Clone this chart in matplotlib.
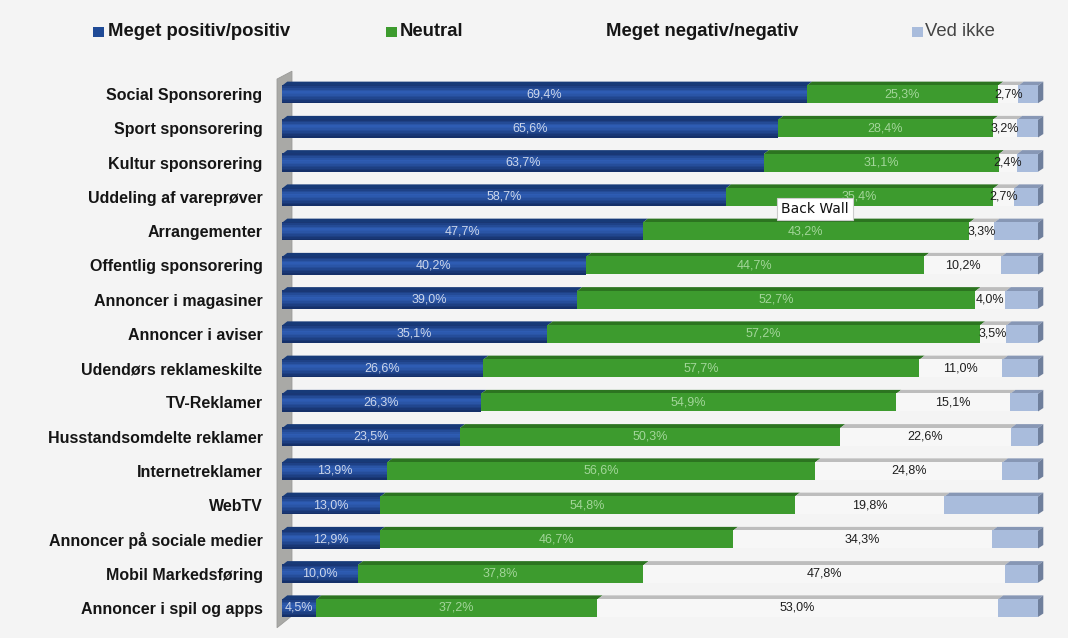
import matplotlib
matplotlib.use('Agg')
import matplotlib.pyplot as plt
from matplotlib.patches import Polygon, Rectangle
import numpy as np

categories = ['Social Sponsorering', 'Sport sponsorering', 'Kultur sponsorering',
              'Uddeling af vareprøver', 'Arrangementer', 'Offentlig sponsorering',
              'Annoncer i magasiner', 'Annoncer i aviser', 'Udendørs reklameskilte',
              'TV-Reklamer', 'Husstandsomdelte reklamer', 'Internetreklamer', 'WebTV',
              'Annoncer på sociale medier', 'Mobil Markedsføring', 'Annoncer i spil og apps']
positive = [69.4, 65.6, 63.7, 58.7, 47.7, 40.2, 39.0, 35.1, 26.6, 26.3, 23.5, 13.9, 13.0, 12.9, 10.0, 4.5]
neutral = [25.3, 28.4, 31.1, 35.4, 43.2, 44.7, 52.7, 57.2, 57.7, 54.9, 50.3, 56.6, 54.8, 46.7, 37.8, 37.2]
negative = [2.7, 3.2, 2.4, 2.7, 3.3, 10.2, 4.0, 3.5, 11.0, 15.1, 22.6, 24.8, 19.8, 34.3, 47.8, 53.0]
dont_know = [2.6, 2.8, 2.8, 3.2, 5.8, 4.9, 4.3, 4.2, 4.7, 3.7, 3.6, 4.7, 12.4, 6.1, 4.4, 5.3]
series_names = ['Meget positiv/positiv', 'Neutral', 'Meget negativ/negativ', 'Ved ikke']

W, H = 1068, 638
BG = '#f4f4f4'
fig = plt.figure(figsize=(W / 100, H / 100), dpi=100, facecolor=BG)
ax = fig.add_axes([282 / W, 1 - 625 / H, 756 / W, 548 / H])
ax.set_facecolor('none')
n = len(categories)
y = np.arange(n)
ax.set_xlim(0, 100)
ax.set_ylim(n - 0.5, -0.5)
for s in ax.spines.values():
    s.set_visible(False)
ax.set_xticks([])
ax.set_yticks(y)
ax.set_yticklabels(categories, fontsize=11.5, fontweight='bold', family='Liberation Sans', color='#151515')
ax.tick_params(axis='y', length=0, pad=14)

# back wall (behind the bars)
wall = Polygon([(-0.66, -0.44), (-0.66, 15.58), (1.32, 15.23), (1.32, -0.67)],
               closed=True, facecolor='#a9a9a6', edgecolor='#9a9a98', lw=0.6,
               clip_on=False, zorder=0)
ax.add_patch(wall)

h = 0.53
dx, dy = 0.7, 0.1
pos = np.array(positive)
neu = np.array(neutral)
neg = np.array(negative)
dk = np.array(dont_know)

fills = ['#1f4a96', '#3d9b2e', '#f7f7f7', '#a9bcdc']
tops = ['#173a78', '#2c7420', '#bdbdbd', '#8797b5']
lefts = [np.zeros(n), pos, pos + neu, pos + neu + neg]
widths = [pos, neu, neg, dk]

for k in range(4):
    ax.barh(y, widths[k], left=lefts[k], height=h, color=fills[k], edgecolor='none', zorder=2)
    for i in range(n):
        l = lefts[k][i]
        r = l + widths[k][i]
        yt = y[i] - h / 2
        ax.add_patch(Polygon([(l, yt + 0.02), (r, yt + 0.02), (r + dx, yt - dy), (l + dx, yt - dy)],
                             closed=True, facecolor=tops[k], edgecolor='none', zorder=1.5,
                             clip_on=False))

# blue tube gradient
nsl = 12
prof = np.array([0.25, 0.45, 0.65, 0.85, 1.0, 0.95, 0.85, 0.7, 0.55, 0.4, 0.25, 0.1])
dark = np.array([0.07, 0.17, 0.38])
light = np.array([0.18, 0.36, 0.70])
for j in range(nsl):
    c = dark + (light - dark) * prof[j]
    off = -h / 2 + (j + 0.5) * h / nsl
    ax.barh(y + off, pos, left=0, height=h / nsl + 0.005, color=c, edgecolor='none', zorder=2.2)

# side faces on the right end
for i in range(n):
    r = lefts[3][i] + widths[3][i]
    yt = y[i] - h / 2
    yb = y[i] + h / 2
    ax.add_patch(Polygon([(r, yt + 0.02), (r + dx, yt - dy), (r + dx, yb - dy), (r, yb)],
                         closed=True, facecolor='#6f7f9c', edgecolor='none', zorder=2.5,
                         clip_on=False))


def fmt(v):
    return f"{v:.1f}%".replace('.', ',')


for i in range(n):
    ax.text(lefts[0][i] + pos[i] / 2, y[i], fmt(pos[i]), ha='center', va='center',
            fontsize=9, color='#ccd6ea', family='Liberation Sans', zorder=5)
    ax.text(lefts[1][i] + neu[i] / 2, y[i], fmt(neu[i]), ha='center', va='center',
            fontsize=9, color='#a3d69a', family='Liberation Sans', zorder=5)
    ax.text(lefts[2][i] + neg[i] / 2, y[i], fmt(neg[i]), ha='center', va='center',
            fontsize=9, color='#1e1e1e', family='Liberation Sans', zorder=5)

# legend
mark_x = [93, 386, 592, 912]
text_x = [108, 400, 606, 925]
leg_colors = ['#1f4a96', '#3d9b2e', BG, '#a9bcdc']
for k in range(4):
    fig.patches.append(Rectangle((mark_x[k] / W, 1 - 37 / H), 11 / W, 10 / H,
                                 transform=fig.transFigure, facecolor=leg_colors[k],
                                 edgecolor='none'))
    fig.text(text_x[k] / W, 1 - 32 / H, series_names[k], ha='left', va='center',
             fontsize=13.3, fontweight='bold' if k < 3 else 'normal',
             family='Liberation Sans',
             color='#151515' if k < 3 else '#444444')

# tooltip artifact
fig.text(815 / W, 1 - 209 / H, 'Back Wall', ha='center', va='center', fontsize=10,
         family='DejaVu Sans', color='#111111',
         bbox=dict(boxstyle='square,pad=0.3', facecolor='white', edgecolor='#cccccc', lw=0.8))

fig.savefig('out.png', dpi=100, facecolor=BG)
